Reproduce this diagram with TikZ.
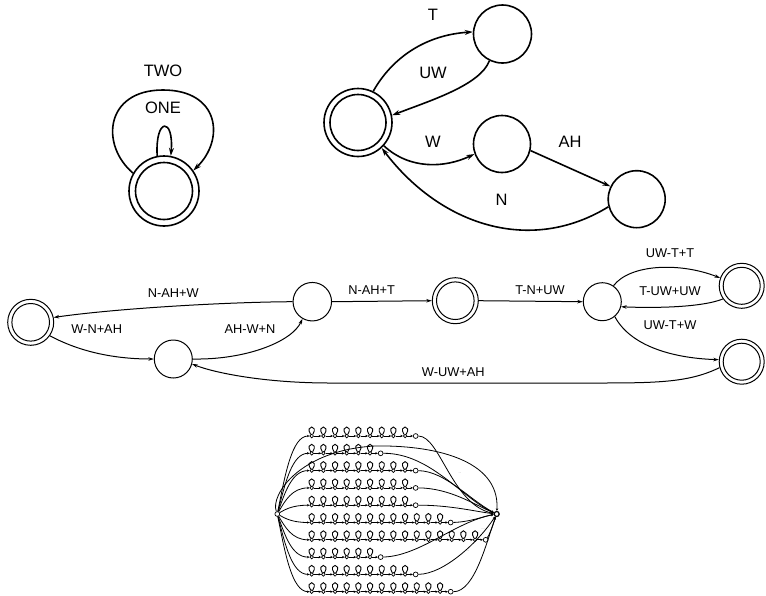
\documentclass[tikz,border=0pt]{standalone}
\usepackage{fontspec}
\setmainfont{Liberation Sans}
\usetikzlibrary{arrows.meta}
\begin{document}
\begin{tikzpicture}[x=1pt,y=-1pt,
  bst/.style={circle,draw,line width=1.6pt,inner sep=0pt,minimum size=#1},
  bedge/.style={line width=1.6pt,-{Stealth[length=8pt,width=5pt]}},
  blab/.style={font=\fontsize{16.5}{18}\selectfont,inner sep=0pt},
  mst/.style={circle,draw,line width=1pt,inner sep=0pt,minimum size=#1},
  medge/.style={line width=1pt,-{Stealth[length=5.5pt,width=3.5pt]}},
  mlab/.style={font=\fontsize{12.8}{14}\selectfont,inner sep=0pt},
  lst/.style={circle,draw,line width=0.7pt,inner sep=0pt,minimum size=3.6pt},
  lend/.style={circle,draw,line width=0.7pt,inner sep=0pt,minimum size=4.8pt},
  larr/.style={line width=0.8pt,-{Stealth[length=2.6pt,width=2.4pt]}},
  lloop/.style={line width=0.9pt},
  tick/.style={font=\fontsize{3.5}{4}\selectfont,text=gray,inner sep=0pt},
]
\useasboundingbox (0,0) rectangle (766,595);

% ---------- top left ----------
\node[bst=70pt] (a0) at (164,191) {};
\draw[line width=1.6pt] (a0.center) circle[radius=28.5];
\draw[bedge] (a0.101) .. controls (155,117) and (174,117) .. (a0.79);
\draw[bedge] (a0.150) .. controls (100,145) and (105,90) .. (163,90) .. controls (220,90) and (225,140) .. (a0.35);
\node[blab] (tTWO) at (163,71) {TWO};
\node[blab] (tONE) at (163,108) {ONE};

% ---------- top right ----------
\node[bst=68pt] (q0) at (358,122.5) {};
\draw[line width=1.6pt] (q0.center) circle[radius=28];
\node[bst=58pt] (q1) at (502.5,34) {};
\node[bst=57pt] (q2) at (502,144) {};
\node[bst=57pt] (q3) at (636.7,199.2) {};
\draw[bedge] (q0.64) .. controls (392,58) and (425,35) .. (q1.176);
\draw[bedge] (q1.-116) .. controls (480,85) and (432,100) .. (q0.12);
\draw[bedge] (q0.-42) .. controls (410,170) and (445,168) .. (q2.200);
\draw[bedge] (q2.-13) -- (q3.154);
\draw[bedge] (q3.-165) .. controls (530,255) and (440,225) .. (q0.-47);
\node[blab] (tT) at (433,15) {T};
\node[blab] (tUW) at (433,73) {UW};
\node[blab] (tW) at (433,141.7) {W};
\node[blab] (tAH) at (570,141.7) {AH};
\node[blab] (tN) at (501.7,200) {N};

% ---------- middle ----------
\node[mst=46pt] (A) at (30.7,322.3) {};
\draw[line width=1pt] (A.center) circle[radius=18.8];
\node[mst=38.5pt] (B) at (312.3,301.7) {};
\node[mst=38pt] (C) at (173.3,359) {};
\node[mst=46pt] (D) at (455.3,300.7) {};
\draw[line width=1pt] (D.center) circle[radius=18.8];
\node[mst=38pt] (E) at (602.3,301.7) {};
\node[mst=45pt] (F) at (741.7,285.8) {};
\draw[line width=1pt] (F.center) circle[radius=18.5];
\node[mst=45pt] (G) at (741.7,361.7) {};
\draw[line width=1pt] (G.center) circle[radius=18.5];

\draw[medge] (B.west) .. controls (230,302) and (120,308) .. (A.12);
\draw[medge] (A.-35) .. controls (80,352) and (115,359) .. (C.180);
\draw[medge] (C.east) .. controls (245,360) and (292,342) .. (B.-120);
\draw[medge] (B.east) -- (D.west);
\draw[medge] (D.east) -- (E.west);
\draw[medge] (E.55) .. controls (630,264) and (680,262) .. (F.160);
\draw[medge] (F.-145) .. controls (700,308) and (650,308) .. (E.-15);
\draw[medge] (E.-50) .. controls (630,345) and (670,358) .. (G.175);
\draw[medge] (G.195) .. controls (690,382) and (660,383) .. (600,383) -- (330,383) .. controls (265,383) and (215,373) .. (C.-15);

\node[mlab] (l1) at (173.3,293.3) {N-AH+W};
\node[mlab] (l2) at (96.7,329) {W-N+AH};
\node[mlab] (l3) at (250,329.3) {AH-W+N};
\node[mlab] (l4) at (371.7,290) {N-AH+T};
\node[mlab] (l5) at (540,290) {T-N+UW};
\node[mlab] (l6) at (670,253.3) {UW-T+T};
\node[mlab] (l7) at (670,291) {T-UW+UW};
\node[mlab] (l8) at (670,325) {UW-T+W};
\node[mlab] (l9) at (453.3,371.7) {W-UW+AH};

% ---------- bottom lattice ----------
\node[lend] (L) at (277.3,514) {};
\node[circle,draw,line width=1.2pt,inner sep=0pt,minimum size=5pt] (R) at (496.7,514) {};

\foreach \r/\nn in {1/9,2/6,3/9,4/9,5/9,6/12,7/15,8/6,9/9,10/12} {
  \pgfmathsetmacro\yy{436+17.3*(\r-1)}
  \foreach \k in {1,...,\nn} {
    \pgfmathsetmacro\xx{311.7+11.67*(\k-1)}
    \node[lst] (s\r-\k) at (\xx,\yy) {};
    \draw[lloop] (\xx-1,\yy-1.5) .. controls (\xx-7.5,\yy-11.5) and (\xx+7.5,\yy-11.5) .. (\xx+1,\yy-1.5);
  }
  \foreach \k in {2,...,\nn} {
    \pgfmathtruncatemacro\kp{\k-1}
    \draw[larr] (s\r-\kp) -- (s\r-\k);
  }
  \pgfmathsetmacro\xe{311.7+11.67*(\nn-1)+10.6}
  \node[lend] (e\r) at (\xe,\yy) {};
  \draw[larr] (s\r-\nn) -- (e\r);
  \draw[larr] (L) .. controls (285,{514+0.5*(\yy-514)}) and (292,\yy) .. (s\r-1);
}

\draw[larr] (e1) .. controls (440,436) and (452,505) .. (R);
\draw[larr] (e2) .. controls (430,453) and (462,498) .. (R);
\draw[larr] (e3) .. controls (445,471) and (470,500) .. (R);
\draw[larr] (e4) .. controls (450,488) and (475,505) .. (R);
\draw[larr] (e5) .. controls (450,505) and (478,512) .. (R);
\draw[larr] (e6) .. controls (470,522) and (485,516) .. (R);
\draw[larr] (e7) .. controls (490,534) and (494,522) .. (R);
\draw[larr] (e8) .. controls (420,556) and (455,522) .. (R);
\draw[larr] (e9) .. controls (445,574) and (480,540) .. (R);
\draw[larr] (e10) .. controls (475,592) and (487,540) .. (R);
\draw[larr] (L) .. controls (270,495) and (300,450) .. (375,446) .. controls (430,445) and (500,458) .. (R);

\node[tick] (k1) at (460,473) {...};
\node[tick] (k2) at (460,490) {...};
\node[tick] (k3) at (458,507) {...};
\node[tick] (k4) at (470,517) {..};
\node[tick] (k5) at (483,529) {....};
\node[tick] (k6) at (468,551) {...};
\node[tick] (k7) at (432,532) {..};
\end{tikzpicture}
\end{document}
